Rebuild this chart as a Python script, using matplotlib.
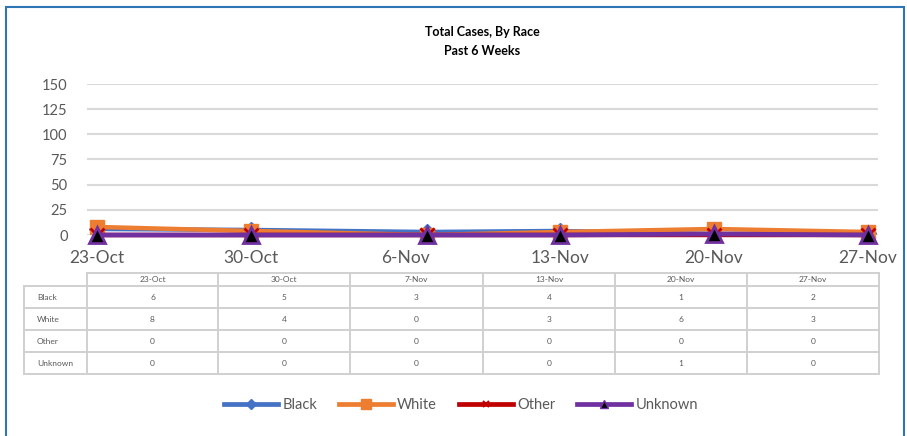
import matplotlib
matplotlib.use("Agg")
import matplotlib.pyplot as plt
import matplotlib.dates as mdates
from matplotlib.lines import Line2D
from matplotlib.patches import Rectangle
import pandas as pd

week_labels = ['23-Oct', '30-Oct', '7-Nov', '13-Nov', '20-Nov', '27-Nov']
races = ['Black', 'White', 'Other', 'Unknown']
black = [6, 5, 3, 4, 1, 2]
white = [8, 4, 0, 3, 6, 3]
other = [0, 0, 0, 0, 0, 0]
unknown = [0, 0, 0, 0, 1, 0]
y_ticks = [0, 25, 50, 75, 100, 125, 150]

series = [black, white, other, unknown]
colors = ['#4472c4', '#ed7d31', '#c00000', '#7030a0']
markers = ['D', 's', 'x', '^']

plt.rcParams['font.family'] = ['Lato', 'DejaVu Sans']
txt_col = '#595959'
grid_col = '#d9d9d9'

W, H = 907, 436
fig = plt.figure(figsize=(W / 100, H / 100), dpi=100)


def fx(px):
    return px / W


def fy(py):
    return 1 - py / H


dates = pd.to_datetime([d + '-2020' for d in week_labels], format='%d-%b-%Y')
tick_dates = pd.date_range(dates[0], periods=6, freq='7D')

# main plot area
ax = fig.add_axes([fx(87), fy(235), fx(878) - fx(87), fy(84) - fy(235)])
for vals, c, m, name in zip(series, colors, markers, races):
    if m == '^':
        ax.plot(dates, vals, color=c, lw=3.4, marker=m, markersize=12,
                markerfacecolor='black', markeredgecolor=c, markeredgewidth=2,
                clip_on=False, label=name, zorder=5)
    elif m == 'x':
        ax.plot(dates, vals, color=c, lw=3.2, marker=m, markersize=10,
                markeredgewidth=2, clip_on=False, label=name, zorder=4)
    else:
        ax.plot(dates, vals, color=c, lw=3.2, marker=m, markersize=10 if m == 's' else 8,
                clip_on=False, label=name, zorder=3)

ax.set_ylim(0, 150)
ax.set_yticks(y_ticks)
ax.set_xlim(tick_dates[0] - pd.Timedelta(hours=11), tick_dates[-1] + pd.Timedelta(hours=11))
ax.set_xticks(tick_dates)
ax.xaxis.set_major_formatter(mdates.DateFormatter('%-d-%b'))
ax.grid(axis='y', color=grid_col, lw=1.5)
ax.set_axisbelow(True)
for s in ax.spines.values():
    s.set_visible(False)
ax.tick_params(axis='y', length=0, pad=14, labelsize=10.5, labelcolor=txt_col)
ax.tick_params(axis='x', length=0, pad=11, labelsize=12.5, labelcolor=txt_col)

# title
fig.text(fx(482), fy(32), 'Total Cases, By Race', ha='center', va='center',
         fontsize=9, fontweight='bold', color='black')
fig.text(fx(482), fy(51), 'Past 6 Weeks', ha='center', va='center',
         fontsize=9, fontweight='bold', color='black')

# data table under the chart
col_edges = [87, 218, 350, 483, 615, 747, 879]
row_edges = [273, 286, 308, 330, 352, 374]
tab_left = 24
lkw = dict(color='#d0d0d0', lw=1.4, transform=fig.transFigure)
# header row
fig.add_artist(Line2D([fx(col_edges[0]), fx(col_edges[-1])], [fy(row_edges[0])] * 2, **lkw))
for x in col_edges:
    fig.add_artist(Line2D([fx(x), fx(x)], [fy(row_edges[0]), fy(row_edges[-1])], **lkw))
for y in row_edges[1:]:
    fig.add_artist(Line2D([fx(tab_left), fx(col_edges[-1])], [fy(y)] * 2, **lkw))
fig.add_artist(Line2D([fx(tab_left)] * 2, [fy(row_edges[1]), fy(row_edges[-1])], **lkw))

for j, lab in enumerate(week_labels):
    cx = (col_edges[j] + col_edges[j + 1]) / 2
    cy = (row_edges[0] + row_edges[1]) / 2
    fig.text(fx(cx), fy(cy), lab, ha='center', va='center', fontsize=6, color=txt_col)
for i, (name, vals) in enumerate(zip(races, series)):
    cy = (row_edges[i + 1] + row_edges[i + 2]) / 2
    fig.text(fx(tab_left + 13), fy(cy), name, ha='left', va='center', fontsize=6, color=txt_col)
    for j, v in enumerate(vals):
        cx = (col_edges[j] + col_edges[j + 1]) / 2
        fig.text(fx(cx), fy(cy), str(v), ha='center', va='center', fontsize=6, color=txt_col)

# legend with small markers
handles = []
for c, m, name in zip(colors, markers, races):
    if m == '^':
        h = Line2D([], [], color=c, lw=3.4, marker=m, markersize=6,
                   markerfacecolor='black', markeredgecolor=c)
    else:
        h = Line2D([], [], color=c, lw=3.4, marker=m, markersize=5 if m != 's' else 7,
                   markeredgewidth=1.5 if m == 'x' else 1)
    handles.append(h)
fig.legend(handles, races, loc='center', bbox_to_anchor=(fx(461), fy(405)), ncol=4,
           frameon=False, handlelength=3.7, handletextpad=0.3, columnspacing=1.5,
           fontsize=10.5, labelcolor=txt_col)

# chart border
fig.add_artist(Rectangle((fx(6), fy(440)), fx(904) - fx(6), fy(7) - fy(440),
                         transform=fig.transFigure, fill=False, edgecolor='#2e75b6', lw=1.5))

fig.savefig('out.png', dpi=100)
